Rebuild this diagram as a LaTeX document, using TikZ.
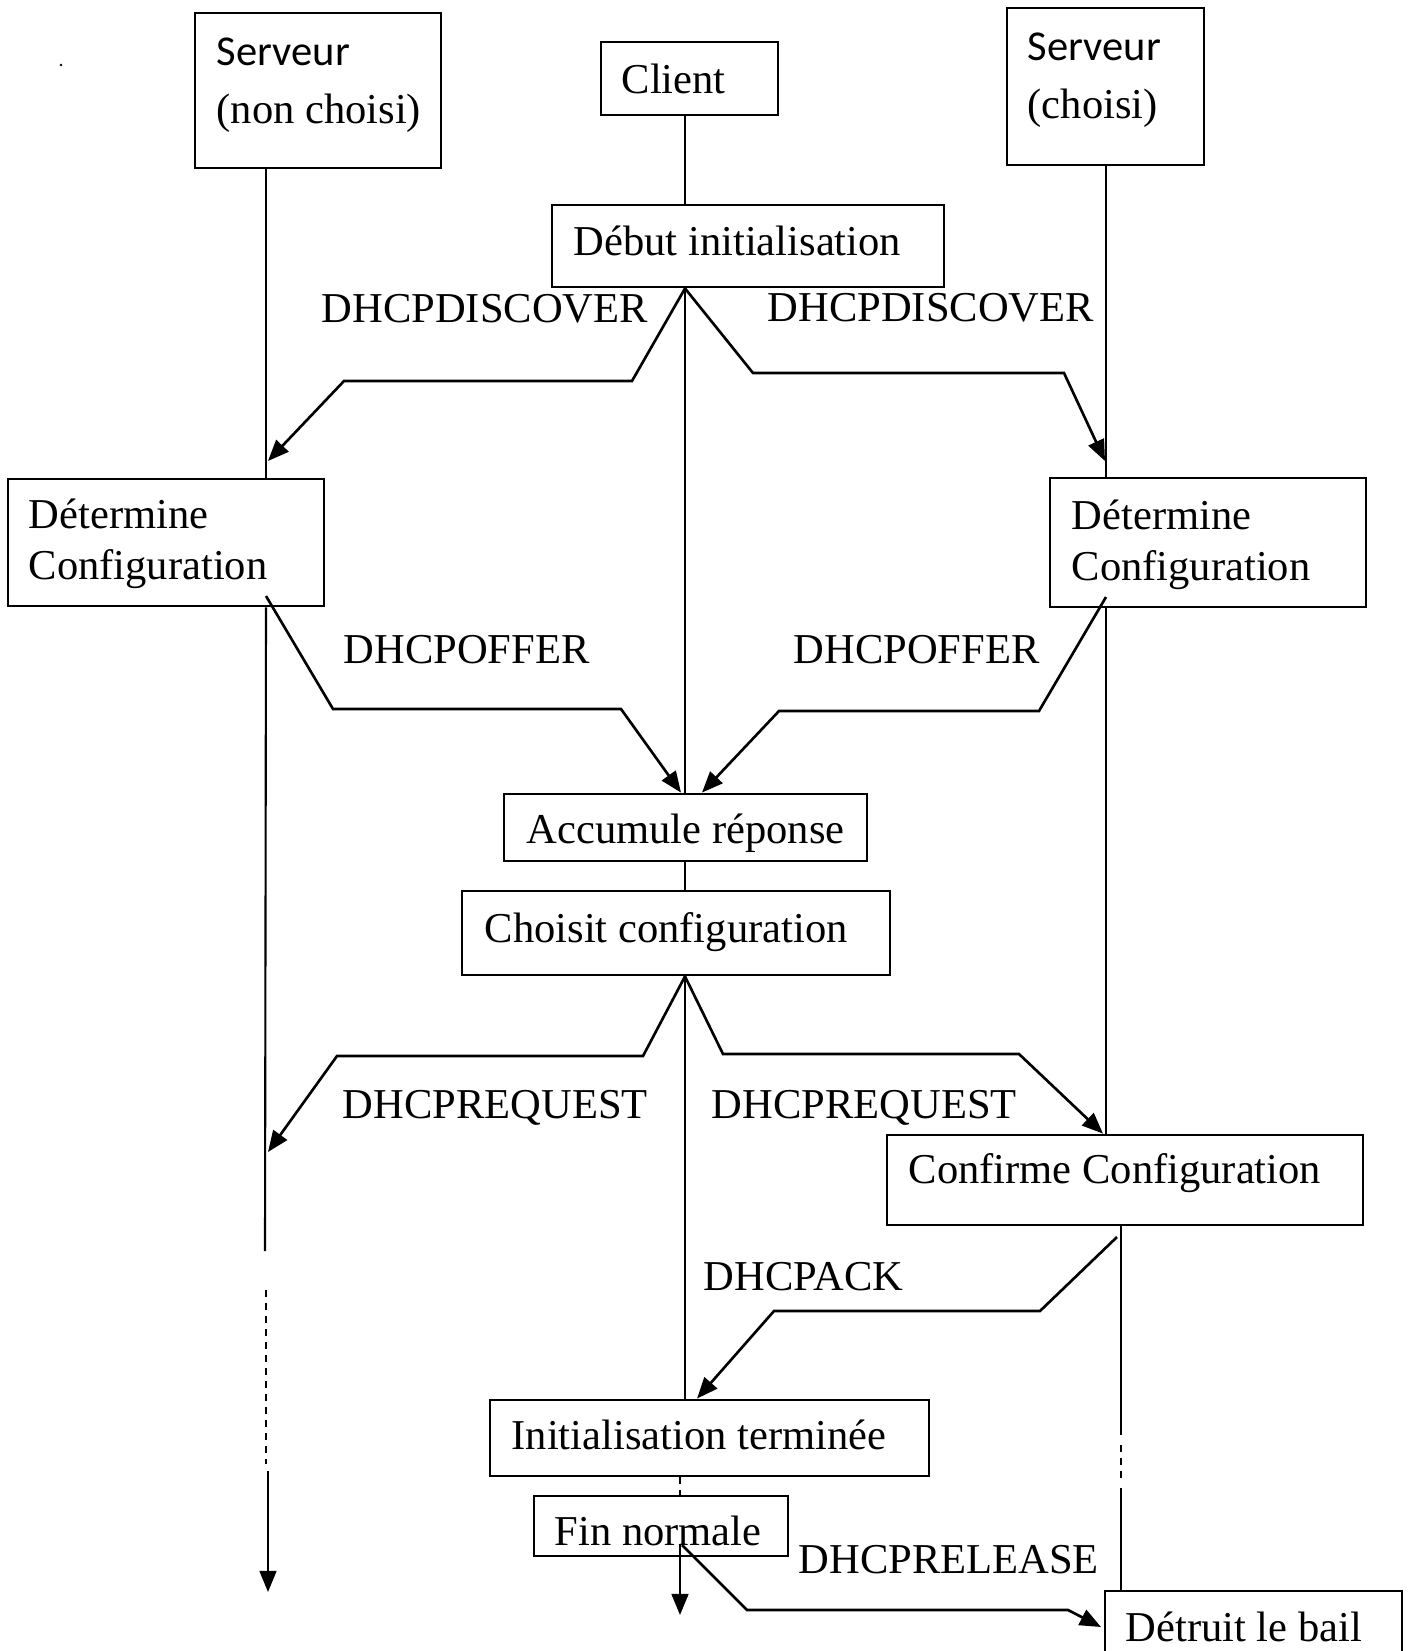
\documentclass[tikz,border=0pt]{standalone}
\usepackage{fontspec}
\setmainfont{Liberation Serif}
\newfontfamily\calibfont{Carlito}
\usetikzlibrary{arrows.meta,fit}
\begin{document}
\begin{tikzpicture}[x=0.01cm,y=-0.01cm,
  box/.style={draw, line width=0.8pt, inner sep=0pt},
  txt/.style={inner sep=0pt, anchor=base west, font=\fontsize{12.1pt}{14pt}\selectfont},
  life/.style={line width=0.6pt},
  tip/.style={-{Triangle[length=6pt,width=4.8pt]}},
  msg/.style={line width=0.75pt, line join=miter, tip},
  dotted line/.style={line width=0.6pt, dash pattern=on 2pt off 1.7pt}]
\useasboundingbox (0,0) rectangle (1409,1651);
\clip (0,0) rectangle (1409,1651);

% stray speck
\fill (61,65) circle (1.3);

% ---- boxes ----
\node[box, fit={(195,13) (441,168)}] (snc) {};
\node[box, fit={(601,42) (778,115)}] (cli) {};
\node[box, fit={(1007,8) (1204,165)}] (sc) {};
\node[box, fit={(552,205) (944,287)}] (deb) {};
\node[box, fit={(8,479) (324,606)}] (detL) {};
\node[box, fit={(1050,478) (1366,607)}] (detR) {};
\node[box, fit={(504,794) (867,861)}] (acc) {};
\node[box, fit={(462,891) (890,975)}] (cho) {};
\node[box, fit={(887,1135) (1363,1225)}] (con) {};
\node[box, fit={(490,1400) (929,1476)}] (ini) {};
\node[box, fit={(534,1496) (788,1556)}] (fin) {};
\node[box, fit={(1105,1591) (1402,1700)}] (dtr) {};

% ---- box texts ----
\node[txt] (snc-a) at (216,65) {\calibfont Serveur};
\node[txt] (snc-b) at (216,123) {(non choisi)};
\node[txt] (cli-a) at (621,93) {Client};
\node[txt] (sc-a) at (1027,60) {\calibfont Serveur};
\node[txt] (sc-b) at (1027,118) {(choisi)};
\node[txt] (deb-a) at (573,255) {Début initialisation};
\node[txt] (detL-a) at (28,528) {Détermine};
\node[txt] (detL-b) at (28,579) {Configuration};
\node[txt] (detR-a) at (1071,529) {Détermine};
\node[txt] (detR-b) at (1071,580) {Configuration};
\node[txt] (acc-a) at (526,843) {Accumule réponse};
\node[txt] (cho-a) at (484,942) {Choisit configuration};
\node[txt] (con-a) at (908,1183) {Confirme Configuration};
\node[txt] (ini-a) at (511,1449) {Initialisation terminée};
\node[txt] (fin-a) at (554,1545) {Fin normale};
\node[txt] (dtr-a) at (1125,1641) {Détruit le bail};

% ---- message labels ----
\node[txt] (l-dis1) at (321,322) {DHCPDISCOVER};
\node[txt] (l-dis2) at (767,321) {DHCPDISCOVER};
\node[txt] (l-off1) at (343,663) {DHCPOFFER};
\node[txt] (l-off2) at (793,663) {DHCPOFFER};
\node[txt] (l-req1) at (342,1118) {DHCPREQUEST};
\node[txt] (l-req2) at (711,1118) {DHCPREQUEST};
\node[txt] (l-ack) at (703,1290) {DHCPACK};
\node[txt] (l-rel) at (798,1573) {DHCPRELEASE};

% ---- lifeline abscissae ----
\coordinate (xL) at (266,0);
\coordinate (xC) at (685,0);
\coordinate (xC2) at (680,0);
\coordinate (xR) at (1106,0);
\coordinate (xR2) at (1121,0);

% left server lifeline
\coordinate (L1) at (265,1251);
\coordinate (L2) at (266,1290);
\coordinate (L3) at (266,1464);
\coordinate (L4) at (268,1471);
\coordinate (L5) at (268,1592);
\draw[life] (snc.south -| xL) -- (detL.north -| xL);
\draw[life] (detL.south -| xL) -- (L1);
\draw[dotted line] (L2) -- (L3);
\draw[life, tip] (L4) -- (L5);

% client lifeline
\coordinate (C1) at (680,1545);
\coordinate (C2) at (680,1615);
\draw[life] (cli.south -| xC) -- (deb.north -| xC);
\draw[life] (deb.south -| xC) -- (acc.north -| xC);
\draw[life] (acc.south -| xC) -- (cho.north -| xC);
\draw[life] (cho.south -| xC) -- (ini.north -| xC);
\draw[dotted line] (ini.south -| xC2) -- (fin.north -| xC2);
\draw[life, tip] (C1) -- (C2);

% chosen server lifeline
\coordinate (R1) at (1121,1435);
\coordinate (R2) at (1121,1445);
\coordinate (R3) at (1121,1482);
\coordinate (R4) at (1121,1488);
\draw[life] (sc.south -| xR) -- (detR.north -| xR);
\draw[life] (detR.south -| xR) -- (con.north -| xR);
\draw[life] (con.south -| xR2) -- (R1);
\draw[dotted line] (R2) -- (R3);
\draw[life] (R4) -- (dtr.north -| xR2);

% ---- messages ----
\coordinate (dis1) at (268,461);
\coordinate (dis2) at (1105,461);
\draw[msg] (deb.south -| xC) -- (632,381) -- (344,381) -- (dis1);
\draw[msg] (deb.south -| xC) -- (753,373) -- (1064,373) -- (dis2);

\coordinate (off1s) at (266,596);
\coordinate (off2s) at (1106,597);
\draw[msg] (off1s) -- (333,709) -- (621,709) -- (acc.north -| 681,0);
\draw[msg] (off2s) -- (1039,711) -- (779,711) -- (acc.north -| 702,0);

\coordinate (req1) at (268,1152);
\draw[msg] (cho.south -| xC) -- (643,1056) -- (337,1056) -- (req1);
\draw[msg] (cho.south -| xC) -- (723,1054) -- (1019,1054) -- (con.north -| 1103,0);

\coordinate (acks) at (1117,1237);
\draw[msg] (acks) -- (1040,1311) -- (774,1311) -- (ini.north -| 697,0);

\coordinate (rels) at (682,1545);
\coordinate (rel) at (1101,1627);
\draw[msg] (rels) -- (747,1610) -- (1068,1610) -- (rel);
\end{tikzpicture}
\end{document}
